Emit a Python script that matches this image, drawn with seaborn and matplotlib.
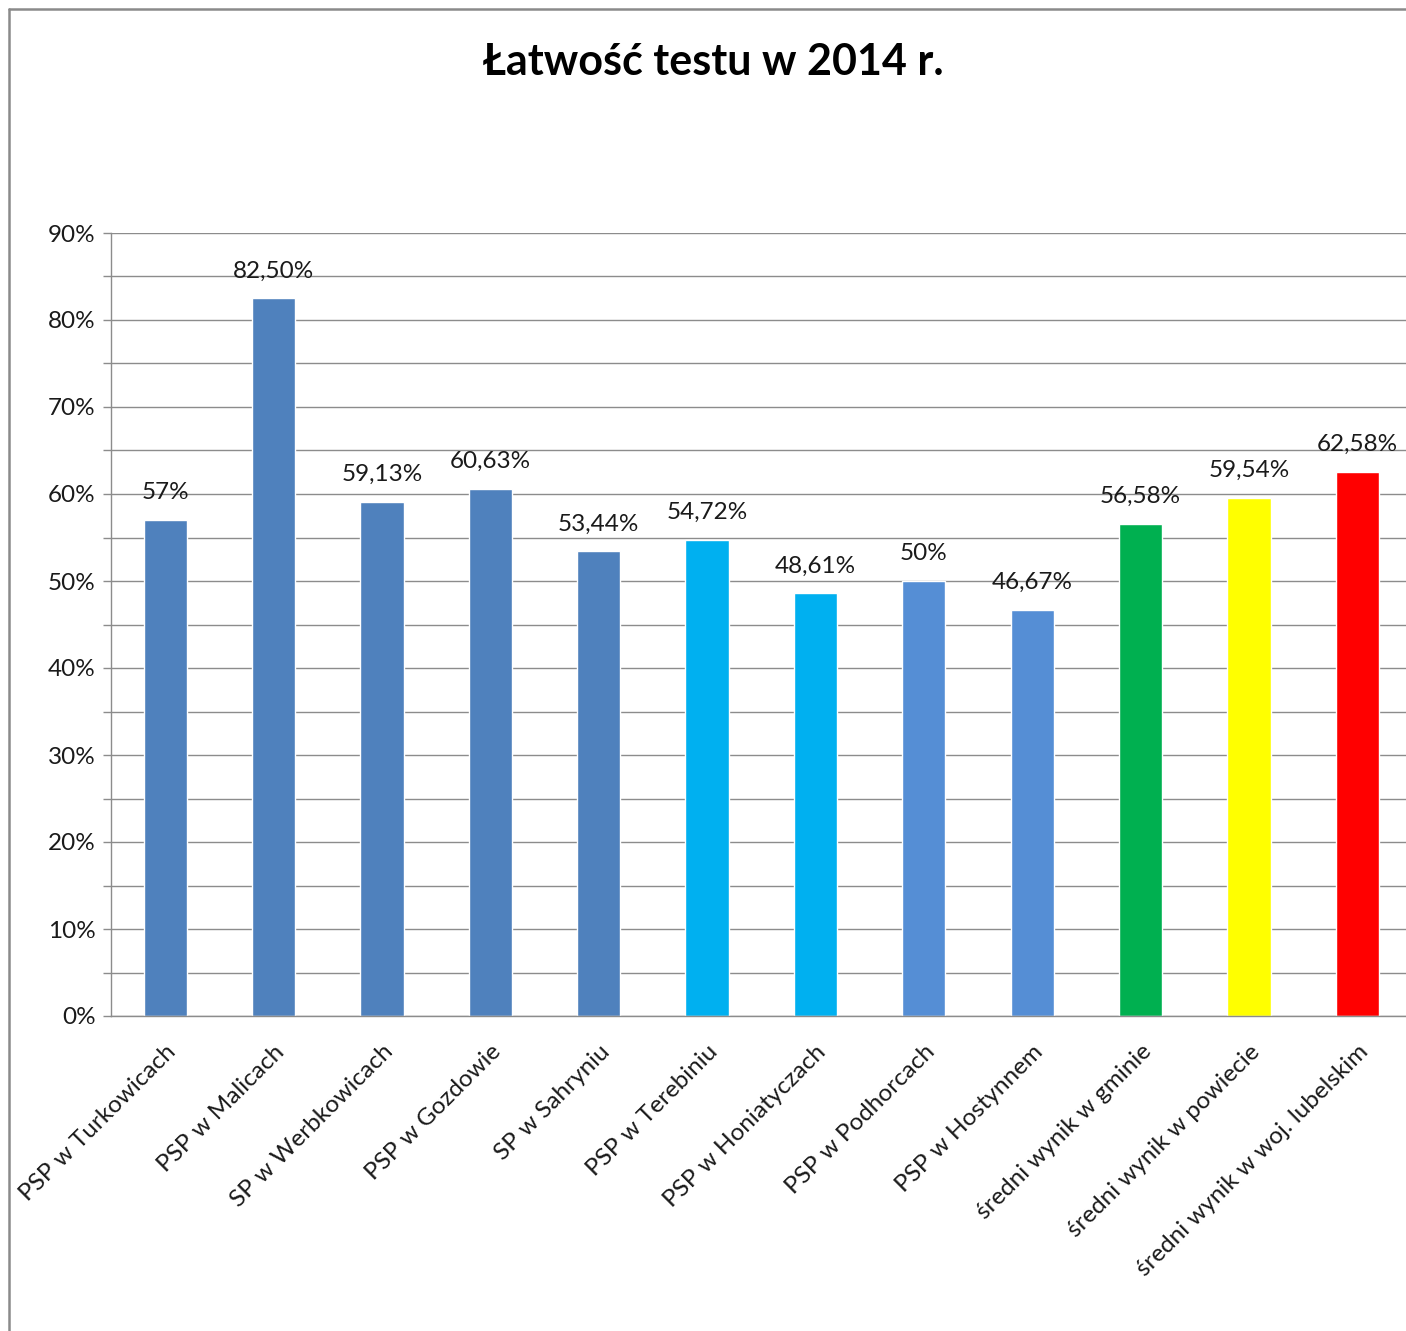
import matplotlib
matplotlib.use("Agg")
import matplotlib.pyplot as plt
import matplotlib.ticker as mticker
from matplotlib.lines import Line2D
import pandas as pd
import seaborn as sns

categories = [
    "PSP w Turkowicach", "PSP w Malicach", "SP w Werbkowicach", "PSP w Gozdowie",
    "SP w Sahryniu", "PSP w Terebiniu", "PSP w Honiatyczach", "PSP w Podhorcach",
    "PSP w Hostynnem", "średni wynik w gminie", "średni wynik w powiecie",
    "średni wynik w woj. lubelskim",
]
values = [57, 82.50, 59.13, 60.63, 53.44, 54.72, 48.61, 50, 46.67, 56.58, 59.54, 62.58]
bar_colors = [
    "#4F81BD", "#4F81BD", "#4F81BD", "#4F81BD", "#4F81BD",
    "#00B0F0", "#00B0F0", "#558ED5", "#558ED5",
    "#00B050", "#FFFF00", "#FF0000",
]
y_ticks = [0, 10, 20, 30, 40, 50, 60, 70, 80, 90]


def pl_percent(v):
    """Format as Excel did: 57% or 82,50%."""
    if float(v).is_integer():
        return f"{int(v)}%"
    return f"{v:.2f}".replace(".", ",") + "%"


df = pd.DataFrame({"szkola": categories, "wynik": values})

sns.set_theme(style="white")
plt.rcParams["font.family"] = ["Lato", "DejaVu Sans"]

fig = plt.figure(figsize=(14.06, 13.31), dpi=100)
ax = fig.add_axes([111 / 1406, 1 - 1016 / 1331, 1300.5 / 1406, (1016 - 233) / 1331])

sns.barplot(data=df, x="szkola", y="wynik", hue="szkola", palette=bar_colors,
            legend=False, width=0.4, saturation=1, ax=ax)

ax.set_ylim(0, 90)
ax.set_xlim(-0.5, len(categories) - 0.5)
ax.set_yticks(y_ticks)
ax.yaxis.set_minor_locator(mticker.MultipleLocator(5))
ax.set_yticklabels([f"{t}%" for t in y_ticks], fontsize=17.5, color="#1A1A1A")
ax.grid(axis="y", which="both", color="#8C8C8C", linewidth=1)
ax.set_axisbelow(True)

# category boundary ticks on x axis
ax.set_xticks(range(len(categories)))
ax.set_xticklabels(categories, rotation=45, ha="right", rotation_mode="anchor",
                   fontsize=17.5, color="#1A1A1A")
ax.tick_params(axis="x", length=0, pad=18)
ax.xaxis.set_minor_locator(mticker.FixedLocator([i - 0.5 for i in range(len(categories) + 1)]))
ax.tick_params(axis="x", which="minor", length=8, color="#8C8C8C", width=1, direction="out")
ax.tick_params(axis="y", which="both", length=6, color="#8C8C8C", width=1, direction="out", left=True)
ax.tick_params(axis="y", which="major", pad=5)

for side in ["top", "right"]:
    ax.spines[side].set_visible(False)
for side in ["left", "bottom"]:
    ax.spines[side].set_color("#8C8C8C")
    ax.spines[side].set_linewidth(1)

for cont in ax.containers:
    ax.bar_label(cont, labels=[pl_percent(b.get_height()) for b in cont],
                 padding=12, fontsize=17.5, color="#1A1A1A")

ax.set_xlabel("")
ax.set_ylabel("")

fig.text(713 / 1406, 1 - 62 / 1331, "Łatwość testu w 2014 r.", ha="center", va="center",
         fontsize=31, fontweight="bold", color="black")

# chart frame: only the top and left edges are in the picture
fx, fy = 8.5 / 1406, 1 - 8.5 / 1331
fig.add_artist(Line2D([fx, 1.0], [fy, fy], transform=fig.transFigure, color="#8A8A8A", linewidth=1.8))
fig.add_artist(Line2D([fx, fx], [0.0, fy], transform=fig.transFigure, color="#8A8A8A", linewidth=1.8))

fig.savefig("out.png", dpi=100, facecolor="white")
